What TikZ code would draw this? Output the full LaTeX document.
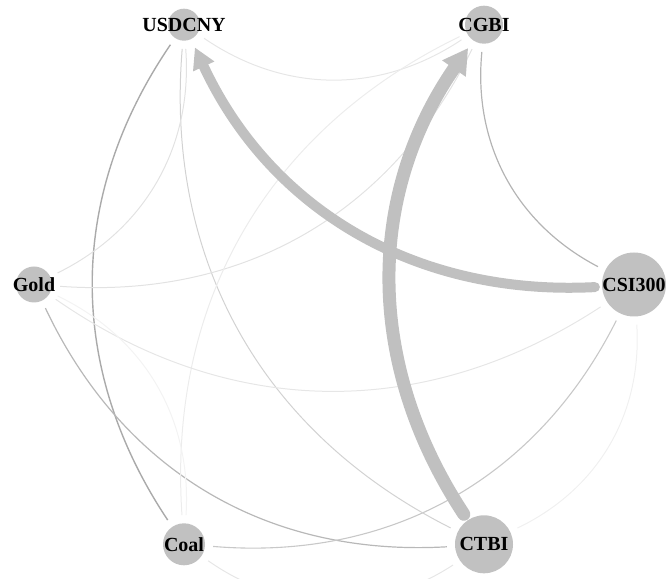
\documentclass[tikz,border=0pt]{standalone}
\usepackage{fontspec}
\setmainfont{Liberation Serif}
\usetikzlibrary{arrows.meta}
\definecolor{nodegray}{RGB}{193,193,193}
\definecolor{heavygray}{RGB}{192,192,192}
\definecolor{ea}{RGB}{170,170,170}
\definecolor{eb}{RGB}{180,180,180}
\definecolor{ec}{RGB}{184,184,184}
\definecolor{ed}{RGB}{200,200,200}
\definecolor{ee}{RGB}{210,210,210}
\definecolor{ef}{RGB}{226,226,226}
\definecolor{eg}{RGB}{230,230,230}
\definecolor{eh}{RGB}{236,236,236}
\definecolor{ei}{RGB}{240,240,240}
\definecolor{ej}{RGB}{243,243,243}
\begin{document}
\begin{tikzpicture}[x=1pt,y=1pt,
  vtx/.style={circle,fill=nodegray,draw=none,inner sep=0pt,minimum size=#1},
  lbl/.style={font=\fontsize{20}{21}\selectfont\bfseries,text=black,inner sep=0pt},
  link/.style={draw=#1,shorten <=8pt,shorten >=8pt},
  heavy/.style={draw=heavygray,line cap=round,shorten <=7pt,shorten >=9pt},
  bl/.style={bend left=34}]
\clip (0,0) rectangle (666,578);
% vertices on a hexagon, centre (334,293.5), radius 300
\node[vtx=32pt] (usd)  at (184,553.3) {};
\node[vtx=38pt] (cgbi) at (484,553.3) {};
\node[vtx=64pt] (csi)  at (634,293.5) {};
\node[vtx=36pt] (gold) at (34,293.5) {};
\node[vtx=42pt] (coal) at (184,33.7) {};
\node[vtx=58pt] (ctbi) at (484,33.7) {};
% thin links
\draw[link=ea,line width=1.4pt] (coal) to[bl] (usd);
\draw[link=eb,line width=1.2pt] (csi) to[bl] (cgbi);
\draw[link=ec,line width=1.2pt] (ctbi) to[bl] (gold);
\draw[link=ed,line width=1.1pt] (csi) to[bl] (coal);
\draw[link=ee,line width=1pt] (ctbi) to[bl] (usd);
\draw[link=ef,line width=1pt] (usd) to[bl] (gold);
\draw[link=eg,line width=1pt] (cgbi) to[bl] (usd);
\draw[link=ef,line width=1pt] (cgbi) to[bl] (gold);
\draw[link=eh,line width=1pt] (coal) to[bl] (cgbi);
\draw[link=eg,line width=1pt] (csi) to[bl] (gold);
\draw[link=ei,line width=1pt] (csi) to[bl] (ctbi);
\draw[link=ej,line width=1pt] (gold) to[bl] (coal);
\draw[link=eg,line width=1pt] (ctbi) to[bl] (coal);
% heavy links
\draw[heavy,line width=10pt,-{Triangle[length=21pt,width=22pt]}] (csi) to[bl] (usd);
\draw[heavy,line width=13pt,-{Triangle[length=25pt,width=27pt]}] (ctbi) to[bl] (cgbi);
% labels
\node[lbl] (usdl)  at (usd)  {USDCNY};
\node[lbl] (cgbil) at (cgbi) {CGBI};
\node[lbl] (csil)  at (csi)  {CSI300};
\node[lbl] (goldl) at (gold) {Gold};
\node[lbl] (coall) at (coal) {Coal};
\node[lbl] (ctbil) at (ctbi) {CTBI};
\end{tikzpicture}
\end{document}
